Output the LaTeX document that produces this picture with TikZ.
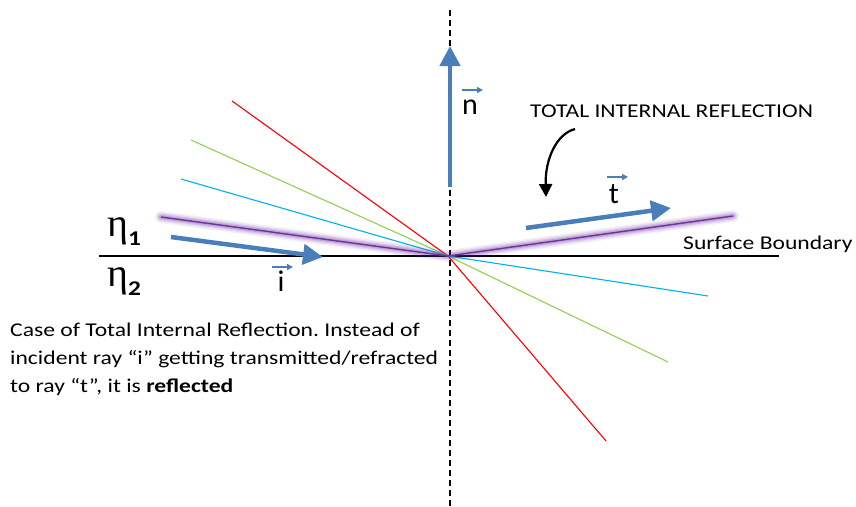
\documentclass[tikz,border=0pt]{standalone}
\usepackage{fontspec}
\setmainfont{Carlito}
\newfontfamily\etafont{Liberation Serif}
\frenchspacing
\usetikzlibrary{arrows.meta}
\definecolor{oblue}{HTML}{4A7EBB}
\definecolor{ored}{HTML}{FF0000}
\definecolor{ogreen}{HTML}{92D050}
\definecolor{ocyan}{HTML}{00B0F0}
\definecolor{opurple}{HTML}{7030A0}
\newcommand{\wide}[1]{\scalebox{1.21}[1]{#1}}
\tikzset{
  bigarrow/.style={oblue, line width=4.5pt, -{Triangle[length=20pt,width=20pt]}},
  vecmark/.style={oblue, line width=1.5pt, -{Triangle[length=6pt,width=6pt]}},
  ray/.style={line width=1.1pt},
  glow/.style={opurple, line cap=round},
  lbl/.style={inner sep=0pt, font=\fontsize{19.5}{28}\selectfont},
  veclbl/.style={inner sep=0pt, anchor=base, font=\fontsize{30}{30}\selectfont},
}
\begin{document}
\begin{tikzpicture}[x=1pt,y=-1pt]
\useasboundingbox (0,0) rectangle (856,506);
\fill[white] (0,0) rectangle (856,506);
\coordinate (O) at (448,256);
% boundary and normal
\coordinate (bl) at (99,256);
\coordinate (br) at (779,256);
\coordinate (nt) at (450,10);
\coordinate (nb) at (450,506);
\draw[black, line width=1.2pt] (bl) -- (br);
\draw[black, line width=1.2pt, dash pattern=on 6pt off 4pt] (nt) -- (nb);
% rays
\coordinate (r1) at (232,101); \coordinate (r2) at (606,441);
\coordinate (g1) at (191,140); \coordinate (g2) at (668,362);
\coordinate (c1) at (181,179); \coordinate (c2) at (708,296);
\coordinate (p1) at (161,217); \coordinate (p2) at (733,216);
\draw[ray, ored] (r1) -- (O) -- (r2);
\draw[ray, ogreen] (g1) -- (O) -- (g2);
\draw[ray, ocyan] (c1) -- (O) -- (c2);
% glow on purple
\foreach \w/\o in {12/0.07, 9/0.1, 6.5/0.14, 4/0.2}{
  \draw[glow, line width=\w pt, opacity=\o] (p1) -- (O) -- (p2);
}
\draw[opurple, line width=1.4pt] (p1) -- (O) -- (p2);
% vectors
\coordinate (ia) at (171,237); \coordinate (ib) at (323,257);
\draw[bigarrow] (ia) -- (ib);
\coordinate (na) at (450,187); \coordinate (nb2) at (450,46);
\draw[bigarrow] (na) -- (nb2);
\coordinate (ta) at (526,228); \coordinate (tb) at (671,208);
\draw[bigarrow] (ta) -- (tb);
% labels
\node[veclbl] (nl) at (470,114) {n};
\coordinate (nv1) at (462,90); \coordinate (nv2) at (483,90);
\draw[vecmark] (nv1) -- (nv2);
\node[veclbl] (tl) at (614,203) {t};
\coordinate (tv1) at (607,177); \coordinate (tv2) at (628,177);
\draw[vecmark] (tv1) -- (tv2);
\node[veclbl] (il) at (281,291) {i};
\coordinate (iv1) at (272,267); \coordinate (iv2) at (293,267);
\draw[vecmark] (iv1) -- (iv2);
\node[lbl, anchor=base west] (tir) at (530,117) {\wide{TOTAL INTERNAL REFLECTION}};
\coordinate (ca) at (575,129); \coordinate (cb) at (546,197);
\draw[black, line width=2.2pt, -{Triangle[length=13pt,width=13pt]}] (ca) .. controls (556,134) and (545,160) .. (cb);
\node[lbl, anchor=base west] (sb) at (683,249) {\wide{Surface Boundary}};
\node[inner sep=0pt, anchor=base west] (eta1) at (107,236) {{\etafont\fontsize{40}{40}\selectfont η}\raisebox{-9pt}{\fontsize{21}{21}\selectfont\bfseries\wide{1}}};
\node[inner sep=0pt, anchor=base west] (eta2) at (107,286) {{\etafont\fontsize{40}{40}\selectfont η}\raisebox{-9pt}{\fontsize{21}{21}\selectfont\bfseries\wide{2}}};
\node[lbl, anchor=base west] (cap) at (10,336) {\wide{\begin{tabular}[t]{@{}l@{}}Case of Total Internal Reflection. Instead of\\incident ray “i” getting transmitted/refracted\\to ray “t”, it is \textbf{reflected}\end{tabular}}};
\end{tikzpicture}
\end{document}
